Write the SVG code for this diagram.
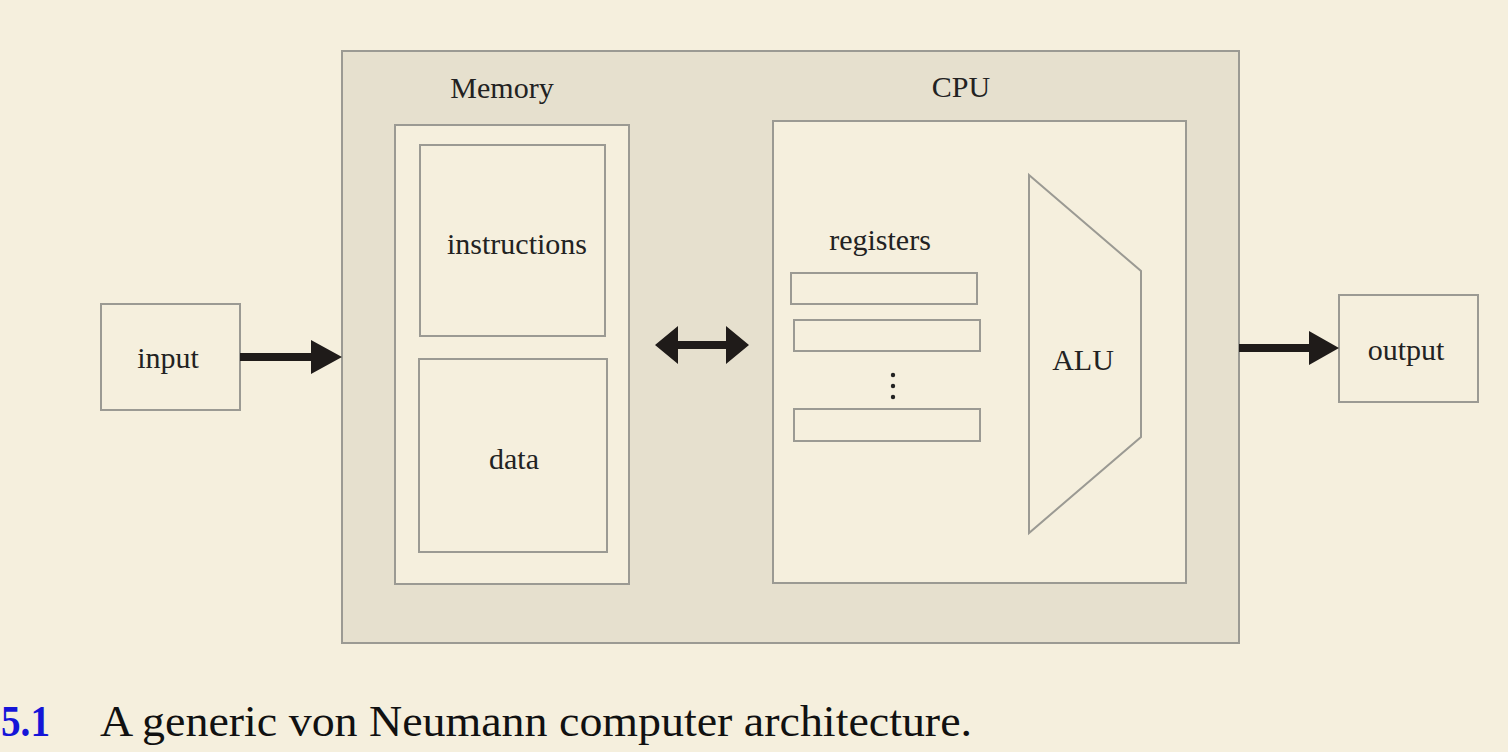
<svg xmlns="http://www.w3.org/2000/svg" width="1508" height="752" viewBox="0 0 1508 752">
<style>
.box{fill:#f5efdd;stroke:#9b9a93;stroke-width:2}
.outer{fill:#e6e0ce;stroke:#9b9a93;stroke-width:2}
.lbl{font-family:"Liberation Serif","Times New Roman",serif;font-size:30px;fill:#222;text-anchor:middle}
.arrow{fill:#1f1b19;stroke:none}
.cap{font-family:"Liberation Serif","Times New Roman",serif;font-size:44px}
</style>
<rect width="1508" height="752" fill="#f5efdd"/>
<g id="system">
<rect class="outer" x="342" y="51" width="897" height="592"/>
</g>
<g id="memory">
<rect class="box" x="395" y="125" width="234" height="459"/>
<text class="lbl" x="502" y="98">Memory</text>
</g>
<g id="instructions">
<rect class="box" x="420" y="145" width="185" height="191"/>
<text class="lbl" x="517" y="254">instructions</text>
</g>
<g id="data">
<rect class="box" x="419" y="359" width="188" height="193"/>
<text class="lbl" x="514" y="469">data</text>
</g>
<g id="cpu">
<rect class="box" x="773" y="121" width="413" height="462"/>
<text class="lbl" x="961" y="97">CPU</text>
</g>
<g id="registers">
<text class="lbl" x="880" y="250">registers</text>
<rect class="box" x="791" y="273" width="186" height="31"/>
<rect class="box" x="794" y="320" width="186" height="31"/>
<circle cx="893" cy="375" r="2.2" fill="#222"/>
<circle cx="893" cy="386" r="2.2" fill="#222"/>
<circle cx="893" cy="397" r="2.2" fill="#222"/>
<rect class="box" x="794" y="409" width="186" height="32"/>
</g>
<g id="alu">
<polygon class="box" points="1029,175 1141,271 1141,437 1029,533"/>
<text class="lbl" x="1083" y="370">ALU</text>
</g>
<g id="input">
<rect class="box" x="101" y="304" width="139" height="106"/>
<text class="lbl" x="168" y="368">input</text>
</g>
<g id="output">
<rect class="box" x="1339" y="295" width="139" height="107"/>
<text class="lbl" x="1406" y="360">output</text>
</g>
<g id="connectors">
<polygon class="arrow" points="240,353 311,353 311,340 342,357 311,374 311,361 240,361"/>
<polygon class="arrow" points="655,345 678,326 678,341 726,341 726,326 749,345 726,364 726,349 678,349 678,364"/>
<polygon class="arrow" points="1239,344 1309,344 1309,331 1339,348 1309,365 1309,352 1239,352"/>
</g>
<g id="caption">
<text class="cap" x="1" y="736" font-weight="bold" fill="#1515d8" textLength="49" lengthAdjust="spacingAndGlyphs">5.1</text>
<text class="cap" x="100" y="736" fill="#111" textLength="872" lengthAdjust="spacingAndGlyphs">A generic von Neumann computer architecture.</text>
</g>
</svg>
